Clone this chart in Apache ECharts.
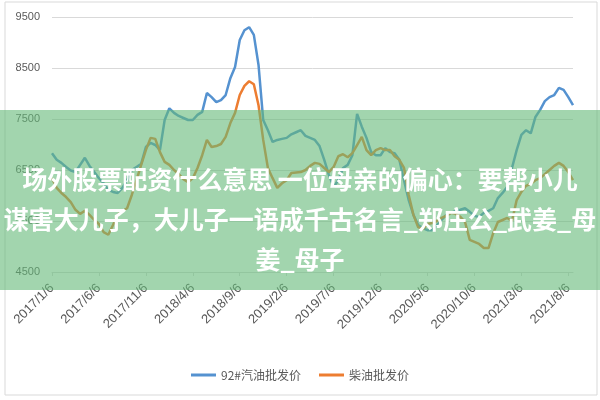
<!DOCTYPE html>
<html>
<head>
<meta charset="utf-8">
<script src="https://cdn.jsdelivr.net/npm/echarts@6/dist/echarts.min.js"></script>
<style>
  html, body { margin: 0; padding: 0; background: #fff; }
  #main { width: 600px; height: 400px; }
</style>
</head>
<body>
<div id="main"></div>
<script>
(function () {
    'use strict';

    // tick labels every 5 months
    var tickLabels = ['2017/1/6', '2017/6/6', '2017/11/6', '2018/4/6', '2018/9/6', '2019/2/6',
        '2019/7/6', '2019/12/6', '2020/5/6', '2020/10/6', '2021/3/6', '2021/8/6'];

    // half-month dates, 2017/1/6 .. 2021/8/21
    var dates = [];
    for (var y = 2017; y <= 2021; y++) {
        for (var m = 1; m <= 12; m++) {
            if (y === 2021 && m > 8) break;
            dates.push(y + '/' + m + '/6');
            dates.push(y + '/' + m + '/21');
        }
    }

    var gasoline92 = [
        6830, 6700, 6640, 6560, 6490, 6460, 6600, 6740, 6580, 6460,
        6340, 6240, 6110, 6070, 6050, 6150, 6300, 6500, 6560, 6620,
        6950, 7030, 6990, 6890, 7480, 7710, 7620, 7560, 7520, 7480,
        7480, 7580, 7640, 8010, 7930, 7830, 7870, 7970, 8300, 8520,
        9050, 9240, 9300, 9150, 8560, 7480, 7280, 7050, 7090, 7110,
        7130, 7200, 7240, 7280, 7170, 7130, 7090, 6970, 6700, 6400,
        6170, 6300, 6540, 6600, 6790, 7600, 7350, 7130, 6850, 6790,
        6790, 6930, 6850, 6830, 6700, 6300, 5910, 5620, 5420, 5360,
        5320, 5320, 5420, 5520, 5620, 5660, 5700, 5720, 5750, 5680,
        5600, 5580, 5660, 5700, 5750, 5950, 6050, 6170, 6540, 6890,
        7190, 7280, 7220, 7540, 7680, 7850, 7930, 7970, 8110, 8070,
        7930, 7770
    ];

    var diesel = [
        6340, 6150, 6050, 5970, 5870, 5720, 5640, 5700, 5620, 5520,
        5440, 5280, 5230, 5420, 5620, 5700, 5750, 6010, 6300, 6600,
        6890, 7130, 7110, 6850, 6660, 6600, 6500, 6420, 6320, 6260,
        6340, 6540, 6790, 7090, 6950, 6970, 7010, 7150, 7420, 7620,
        7970, 8150, 8240, 8180, 7770, 7090, 6540, 6340, 6150, 6240,
        6300, 6440, 6450, 6460, 6500, 6580, 6640, 6620, 6540, 6460,
        6560, 6770, 6810, 6750, 6830, 6990, 7150, 6890, 6790, 6890,
        6930, 6890, 6890, 6770, 6700, 6540, 6010, 5620, 5380, 5340,
        5440, 5460, 5500, 5560, 5600, 5660, 5640, 5580, 5480, 5130,
        5090, 5050, 4970, 4970, 5260, 5480, 5520, 5560, 5500, 5910,
        6070, 6190, 6230, 6300, 6340, 6420, 6500, 6580, 6640, 6580,
        6460, 6300
    ];

    var seriesNames = ['92#汽油批发价', '柴油批发价'];

    var bannerLines = [
        '场外股票配资什么意思 一位母亲的偏心：要帮小儿',
        '谋害大儿子，大儿子一语成千古名言_郑庄公_武姜_母',
        '姜_母子'
    ];

    var grey = '#595959';
    var lineGrey = '#d9d9d9';

    var myChart = echarts.init(document.getElementById('main'));

    var bannerText = bannerLines.map(function (t, k) {
        return {
            type: 'text',
            z: 101,
            style: {
                text: t,
                x: 300,
                y: 179 + k * 40,
                textAlign: 'center',
                textVerticalAlign: 'middle',
                fill: '#ffffff',
                fontSize: 25,
                fontWeight: 'bold',
                fontFamily: '"Noto Sans CJK SC", sans-serif'
            }
        };
    });

    var option = {
        animation: false,
        backgroundColor: '#fff',
        color: ['#5592d0', '#ed7d31'],
        grid: { left: 52, right: 27, top: 17, bottom: 128 },
        legend: {
            data: seriesNames,
            bottom: 14,
            left: 'center',
            icon: 'rect',
            itemWidth: 25,
            itemHeight: 3,
            itemGap: 18,
            textStyle: { color: grey, fontSize: 12, fontFamily: '"Noto Sans CJK SC", sans-serif' }
        },
        xAxis: {
            type: 'category',
            data: dates,
            boundaryGap: false,
            axisLine: { lineStyle: { color: lineGrey } },
            axisTick: { show: true, interval: 9, length: 4, lineStyle: { color: lineGrey } },
            axisLabel: {
                interval: 9,
                rotate: 45,
                margin: 14,
                color: grey,
                fontSize: 13,
                fontFamily: '"Liberation Sans", sans-serif',
                formatter: function (v) {
                    return tickLabels.indexOf(v) >= 0 ? v : '';
                }
            },
            splitLine: { show: false }
        },
        yAxis: {
            type: 'value',
            min: 4500,
            max: 9500,
            interval: 1000,
            axisLine: { show: false },
            axisTick: { show: false },
            axisLabel: {
                color: grey,
                fontSize: 11,
                margin: 12,
                fontFamily: '"Liberation Sans", sans-serif',
                formatter: function (v) { return String(v); }
            },
            splitLine: { lineStyle: { color: lineGrey, width: 1 } }
        },
        series: [
            {
                name: seriesNames[0],
                type: 'line',
                data: gasoline92,
                symbol: 'none',
                lineStyle: { width: 2.5 }
            },
            {
                name: seriesNames[1],
                type: 'line',
                data: diesel,
                symbol: 'none',
                lineStyle: { width: 2.5 }
            }
        ],
        graphic: [
            {
                type: 'rect',
                z: 0,
                silent: true,
                shape: { x: 5, y: 2, width: 592, height: 393 },
                style: { fill: 'none', stroke: lineGrey, lineWidth: 1 }
            },
            {
                type: 'rect',
                z: 100,
                silent: true,
                shape: { x: 0, y: 110, width: 600, height: 180 },
                style: { fill: 'rgba(100,185,120,0.6)' }
            }
        ].concat(bannerText)
    };
    myChart.setOption(option);
})();
</script>
</body>
</html>
